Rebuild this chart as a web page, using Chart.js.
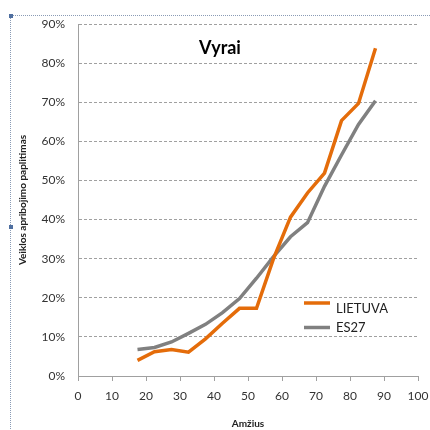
<!DOCTYPE html>
<html><head><meta charset="utf-8">
<script src="https://cdn.jsdelivr.net/npm/chart.js@4"></script>
<style>
html,body{margin:0;padding:0;background:#fff;}
#wrap{position:relative;width:430px;height:430px;}
#frame{position:absolute;left:10px;top:15px;width:440px;height:440px;border-left:1px dotted #8a9bb5;border-top:1px dotted #8a9bb5;box-sizing:border-box;}
.h{position:absolute;width:4px;height:4px;background:#4f6fa0;}
canvas{position:absolute;left:0;top:0;}
</style></head>
<body><div id="wrap"><div id="frame"></div>
<div class="h" style="left:9px;top:14px"></div><div class="h" style="left:9px;top:225px"></div>
<canvas id="c" width="430" height="430"></canvas></div>
<script>
const chartTitle = "Vyrai";
const xTitle = "Amžius";
const yTitle = "Veiklos apribojimo paplitimas";
const ages = [17.5, 22.5, 27.5, 32.5, 37.5, 42.5, 47.5, 52.5, 57.5, 62.5, 67.5, 72.5, 77.5, 82.5, 87.5];
const lietuva = [4.0, 6.2, 6.8, 6.1, 9.5, 13.5, 17.3, 17.3, 30.0, 40.6, 46.8, 51.9, 65.3, 69.7, 83.8];
const es27 = [6.8, 7.3, 8.7, 10.9, 13.2, 16.2, 19.8, 25.0, 30.5, 35.6, 39.2, 48.5, 56.5, 64.3, 70.4];
const seriesNames = ["LIETUVA", "ES27"];

const FONT = "Lato, 'Open Sans', sans-serif";
const toXY = (xs, ys) => xs.map((x, i) => ({x: x, y: ys[i]}));

const overlay = {
  id: 'overlay',
  afterDraw(chart) {
    const ctx = chart.ctx;
    ctx.save();
    ctx.fillStyle = '#000';
    ctx.font = "bold 18px " + FONT;
    ctx.textAlign = 'center';
    ctx.textBaseline = 'middle';
    ctx.fillText(chartTitle, 220, 48);
    const rows = [{ly: 303, ty: 309}, {ly: 327.5, ty: 327.5}];
    chart.data.datasets.forEach((ds, i) => {
      const r = rows[i];
      ctx.strokeStyle = ds.borderColor;
      ctx.lineWidth = 3.5;
      ctx.beginPath(); ctx.moveTo(304, r.ly); ctx.lineTo(330, r.ly); ctx.stroke();
      ctx.fillStyle = '#222';
      ctx.font = "13px " + FONT;
      ctx.textAlign = 'left';
      ctx.fillText(ds.label, 336, r.ty);
    });
    ctx.restore();
  }
};

new Chart(document.getElementById('c'), {
  type: 'line',
  data: {
    datasets: [
      {label: seriesNames[0], data: toXY(ages, lietuva), borderColor: '#E46C0A', borderWidth: 3.5, pointRadius: 0, tension: 0},
      {label: seriesNames[1], data: toXY(ages, es27), borderColor: '#808080', borderWidth: 3.5, pointRadius: 0, tension: 0}
    ]
  },
  options: {
    responsive: false,
    animation: false,
    layout: {padding: {top: 24, right: 0, left: 0, bottom: 0}},
    plugins: {legend: {display: false}, title: {display: false}, tooltip: {enabled: false}},
    scales: {
      x: {
        type: 'linear', min: 0, max: 100,
        ticks: {stepSize: 10, color: '#333', font: {family: FONT, size: 12}, padding: 8, maxRotation: 0},
        grid: {drawOnChartArea: false, drawTicks: true, tickLength: 5, color: '#a0a0a0'},
        border: {color: '#a0a0a0', width: 1},
        title: {display: true, text: xTitle, color: '#222', font: {family: FONT, size: 10, weight: 'bold'}, padding: {top: 3, bottom: 0}},
        afterFit(s) { s.height = 54; s.paddingRight = 12; }
      },
      y: {
        min: 0, max: 90,
        ticks: {stepSize: 10, color: '#333', font: {family: FONT, size: 12}, padding: 13, callback: v => v + '%'},
        grid: {drawTicks: false, color: '#a0a0a0', lineWidth: 1},
        border: {color: '#a0a0a0', width: 1, dash: [3, 2]},
        title: {display: true, text: yTitle, color: '#222', font: {family: FONT, size: 10, weight: 'bold'}, padding: {top: 17, bottom: 0}},
        afterFit(s) { s.width = 78; }
      }
    }
  },
  plugins: [overlay]
});
</script></body></html>
